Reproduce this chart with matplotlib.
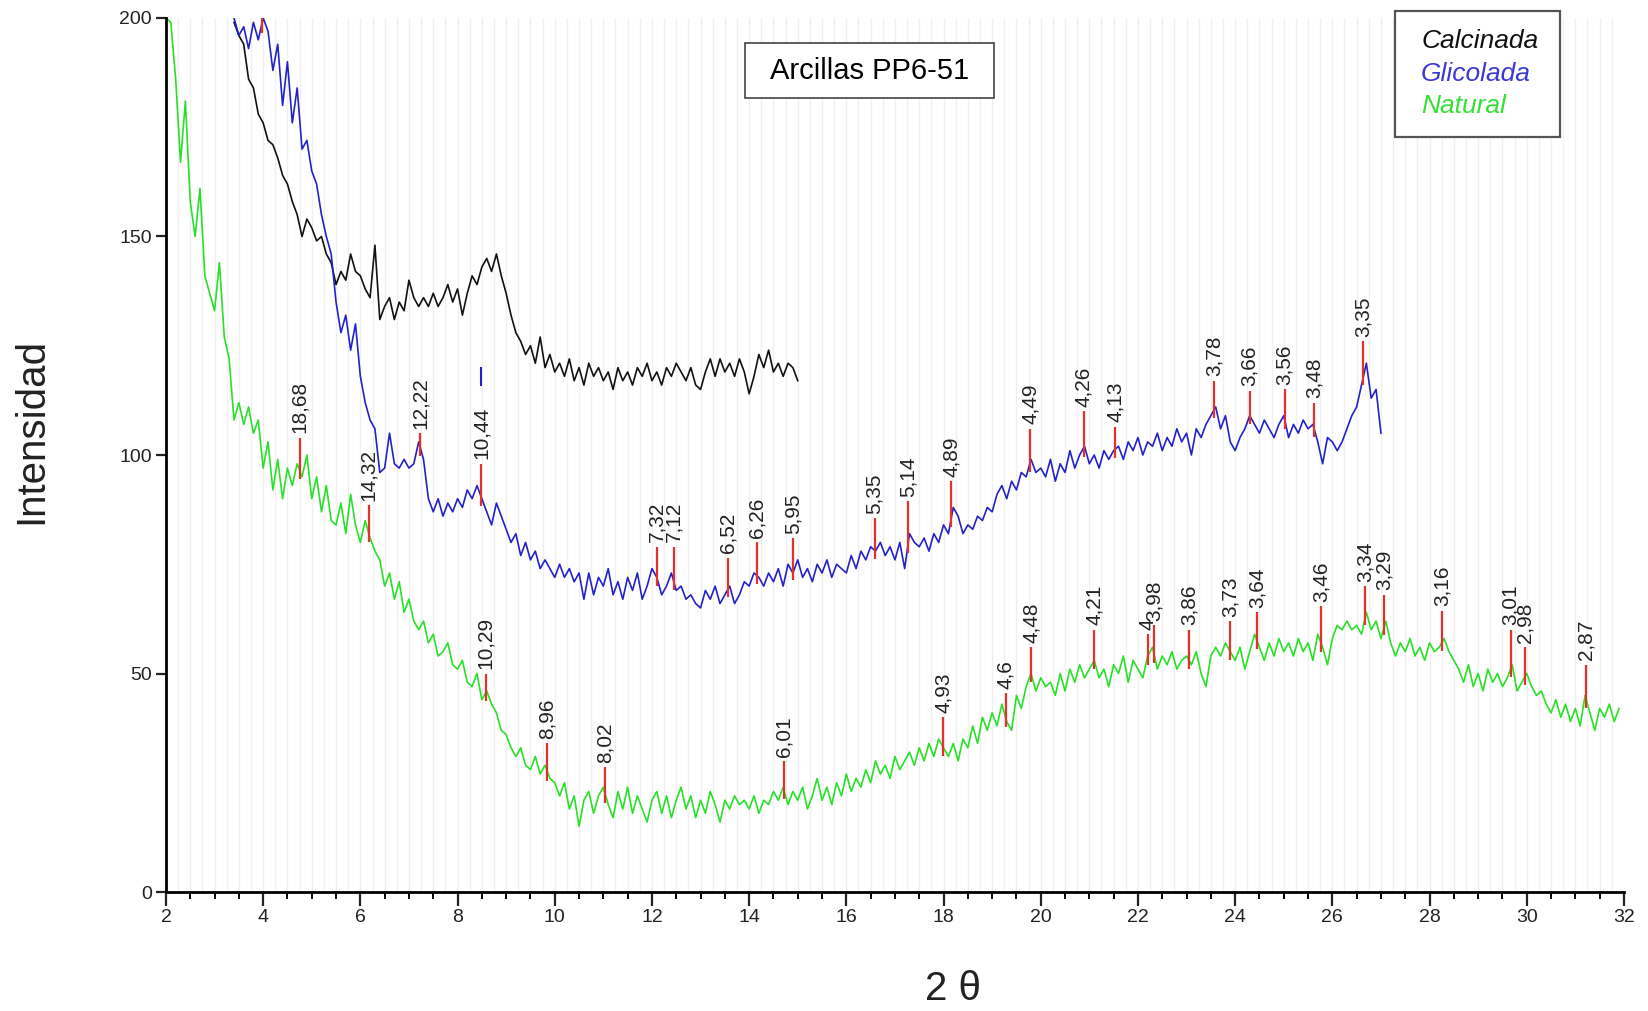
import numpy as np
import matplotlib.pyplot as plt
from matplotlib.patches import Rectangle

plt.rcParams['font.family'] = ['Liberation Sans', 'DejaVu Sans']

natural_start = 2.0
natural_y = [
    200, 199, 186, 167, 181, 158, 150, 161, 141, 137,
    133, 144, 127, 122, 108, 112, 107, 111, 105, 108,
    97, 103, 92, 99, 90, 97, 93, 98, 95, 100,
    90, 95, 87, 93, 85, 84, 89, 82, 91, 84,
    80, 85, 81, 78, 76, 70, 73, 67, 71, 64,
    67, 62, 60, 62, 57, 59, 54, 55, 57, 52,
    51, 53, 48, 47, 50, 44, 46, 43, 41, 37,
    36, 33, 31, 33, 29, 28, 31, 27, 29, 26,
    25, 22, 25, 19, 22, 15, 21, 23, 18, 22,
    24, 20, 17, 23, 19, 24, 18, 22, 19, 16,
    21, 23, 18, 22, 17, 21, 24, 19, 22, 17,
    21, 18, 23, 20, 16, 21, 19, 22, 20, 21,
    19, 22, 18, 21, 20, 23, 21, 24, 20, 23,
    21, 24, 19, 22, 26, 21, 24, 20, 25, 22,
    27, 23, 26, 24, 28, 25, 30, 27, 29, 26,
    31, 28, 30, 32, 29, 33, 30, 34, 31, 35,
    33, 31, 34, 30, 35, 33, 38, 34, 40, 37,
    41, 38, 43, 39, 37, 45, 42, 47, 50, 46,
    49, 47, 48, 45, 50, 46, 51, 48, 52, 49,
    51, 53, 49, 51, 47, 52, 50, 54, 48, 53,
    51, 49, 54, 56, 51, 54, 52, 55, 51, 53,
    54, 52, 55, 50, 47, 54, 56, 54, 57, 55,
    53, 56, 51, 55, 59, 56, 53, 57, 54, 58,
    55, 57, 54, 58, 55, 57, 53, 59, 56, 52,
    58, 61, 60, 62, 60, 61, 59, 64, 60, 62,
    58, 62, 57, 54, 57, 55, 58, 54, 56, 53,
    57, 55, 56, 58, 55, 53, 51, 48, 52, 47,
    50, 46, 51, 48, 50, 47, 49, 52, 46, 48,
    50, 47, 45, 46, 43, 41, 44, 40, 43, 39,
    42, 38, 45, 41, 37, 42, 40, 43, 39, 42,
]

glicolada_start = 3.4
glicolada_y = [
    200, 196, 198, 193, 199, 195, 200, 197, 188, 194,
    180, 190, 176, 184, 170, 172, 165, 162, 155, 150,
    146, 135, 128, 132, 124, 130, 118, 112, 108, 106,
    96, 97, 105, 98, 97, 99, 97, 98, 103, 99,
    90, 87, 90, 86, 89, 87, 90, 88, 92, 90,
    93, 90, 87, 84, 89, 86, 83, 80, 82, 77,
    80, 76, 78, 74, 76, 74, 72, 75, 72, 74,
    71, 73, 67, 73, 68, 72, 70, 74, 68, 71,
    67, 72, 69, 73, 67, 70, 74, 72, 68, 70,
    73, 69, 70, 67, 68, 66, 65, 69, 67, 70,
    66, 68, 70, 66, 68, 71, 70, 73, 72, 70,
    73, 71, 74, 70, 75, 73, 76, 72, 74, 71,
    75, 73, 76, 72, 75, 74, 73, 77, 74, 78,
    76, 79, 78, 80, 77, 79, 76, 80, 74, 82,
    80, 79, 81, 78, 82, 80, 84, 82, 88, 86,
    82, 84, 83, 86, 85, 88, 87, 91, 93, 90,
    94, 92, 96, 95, 99, 96, 97, 95, 99, 94,
    98, 96, 101, 97, 100, 102, 98, 100, 97, 101,
    99, 101, 102, 99, 103, 101, 104, 100, 103, 102,
    105, 101, 104, 102, 106, 103, 105, 100, 106, 104,
    107, 109, 111, 106, 109, 103, 101, 104, 106, 109,
    107, 105, 108, 106, 104, 107, 109, 104, 107, 105,
    108, 106, 107, 103, 98, 104, 103, 101, 103, 106,
    109, 111, 116, 121, 113, 115, 105,
]

calcinada_start = 3.4
calcinada_y = [
    199, 196, 194, 186, 184, 178, 176, 172, 171, 168,
    164, 162, 158, 155, 150, 154, 152, 149, 150, 146,
    144, 139, 142, 140, 146, 142, 141, 138, 136, 148,
    131, 134, 136, 131, 135, 133, 140, 136, 134, 136,
    134, 137, 134, 136, 139, 135, 138, 132, 137, 141,
    139, 143, 145, 142, 146, 141, 137, 132, 128, 126,
    123, 125, 121, 127, 120, 123, 119, 121, 118, 122,
    117, 120, 116, 121, 118, 120, 117, 119, 115, 120,
    117, 119, 116, 120, 118, 121, 117, 119, 116, 120,
    118, 121, 119, 117, 120, 116, 115, 119, 122, 118,
    122, 119, 121, 118, 122, 119, 114, 118, 123, 120,
    124, 119, 121, 118, 121, 120, 117,
]

# stray blue fragment near 8.5 deg
glic_frag_x = [8.49, 8.49]
glic_frag_y = [116, 120]

# Peak marks: position (2-theta), d-spacing label, top of red mark
nat_peak_x = [4.75, 6.17, 8.58, 9.85, 11.04, 14.72, 17.99, 19.28, 19.80, 21.10,
              22.20, 22.33, 23.05, 23.89, 24.45, 25.77, 26.68, 27.07, 28.26,
              29.67, 29.97, 31.22]
nat_peak_lab = ["18,68", "14,32", "10,29", "8,96", "8,02", "6,01", "4,93", "4,6",
                "4,48", "4,21", "4", "3,98", "3,86", "3,73", "3,64", "3,46",
                "3,34", "3,29", "3,16", "3,01", "2,98", "2,87"]
nat_peak_top = [104, 88.5, 50, 34, 28.6, 30, 40, 45.5, 56, 60, 59, 61, 60, 62,
                64, 65.4, 70, 68, 64.4, 60, 56, 52]

gli_peak_x = [3.97, 7.23, 8.49, 12.10, 12.45, 13.57, 14.16, 14.91, 16.58, 17.27,
              18.16, 19.78, 20.88, 21.53, 23.57, 24.30, 25.02, 25.62, 26.64]
gli_peak_lab = ["", "12,22", "10,44", "7,32", "7,12", "6,52", "6,26", "5,95",
                "5,35", "5,14", "4,89", "4,49", "4,26", "4,13", "3,78", "3,66",
                "3,56", "3,48", "3,35"]
gli_peak_top = [202, 105, 98, 79, 79, 76.5, 80, 81, 85.5, 89.5, 94, 106, 110,
                106.5, 117, 114.7, 115, 112, 126]

BLACK = "#111111"
BLUE = "#2222c8"
GREEN = "#28e028"
RED = "#e4322b"

fig = plt.figure(figsize=(16.48, 10.11), dpi=100)
ax = fig.add_axes([0.1007, 0.1177, 0.8847, 0.8645])


def xgrid(start, vals):
    return np.round(start + 0.1 * np.arange(len(vals)), 2)


nat_x = xgrid(natural_start, natural_y)
gli_x = xgrid(glicolada_start, glicolada_y)
cal_x = xgrid(calcinada_start, calcinada_y)

# faint vertical grid
for gx in np.arange(2.25, 32, 0.25):
    ax.axvline(gx, color="#f0f0f0", lw=1.0, zorder=0)

ax.plot(cal_x, calcinada_y, color=BLACK, lw=1.2, zorder=2)
ax.plot(gli_x, glicolada_y, color=BLUE, lw=1.2, zorder=2)
ax.plot(glic_frag_x, glic_frag_y, color=BLUE, lw=1.5, zorder=2)
ax.plot(nat_x, natural_y, color=GREEN, lw=1.2, zorder=2)


def mark_peaks(px, labs, tops, cx, cy):
    for x, lab, top in zip(px, labs, tops):
        base = np.interp(x, cx, cy) - 2
        ax.vlines(x, base, top, color=RED, lw=1.6, zorder=3)
        if lab:
            ax.text(x, top + 1.0, lab, rotation=90, ha="center", va="bottom",
                    fontsize=15, color="#222222", zorder=4)


mark_peaks(gli_peak_x, gli_peak_lab, gli_peak_top, gli_x, glicolada_y)
mark_peaks(nat_peak_x, nat_peak_lab, nat_peak_top, nat_x, natural_y)

ax.set_xlim(2, 32)
ax.set_ylim(0, 200)
ax.set_xticks(np.arange(2, 33, 2))
ax.set_xticks(np.arange(2, 32.01, 0.5), minor=True)
ax.set_yticks([0, 50, 100, 150, 200])
ax.tick_params(axis="x", which="major", direction="out", length=10, width=1.6,
               labelsize=14, pad=2, colors="#222222")
ax.tick_params(axis="x", which="minor", direction="out", length=5, width=1.4)
ax.tick_params(axis="y", which="major", direction="out", length=7, width=1.6,
               labelsize=14, pad=3, colors="#222222")
for s in ("top", "right"):
    ax.spines[s].set_visible(False)
for s in ("left", "bottom"):
    ax.spines[s].set_linewidth(2)

fig.text(0.019, 0.574, "Intensidad", rotation=90, ha="center", va="center",
         fontsize=29, color="#222222")
fig.text(0.578, 0.022, "2 θ", ha="center", va="center", fontsize=29,
         color="#222222")

# title box
fig.patches.append(Rectangle((0.452, 0.903), 0.151, 0.054, transform=fig.transFigure,
                             fill=True, facecolor="white", edgecolor="#444444", lw=1.2))
fig.text(0.5275, 0.930, "Arcillas PP6-51", ha="center", va="center", fontsize=21)

# legend box
fig.patches.append(Rectangle((0.8465, 0.8645), 0.1001, 0.1251, transform=fig.transFigure,
                             fill=True, facecolor="white", edgecolor="#555555", lw=1.6))
fig.text(0.8623, 0.9594, "Calcinada", ha="left", va="center", fontsize=19,
         style="italic", color=BLACK)
fig.text(0.8623, 0.9272, "Glicolada", ha="left", va="center", fontsize=19,
         style="italic", color="#3a3ad0")
fig.text(0.8623, 0.8951, "Natural", ha="left", va="center", fontsize=19,
         style="italic", color="#33e033")

plt.savefig("out.png", dpi=100)
plt.close()
